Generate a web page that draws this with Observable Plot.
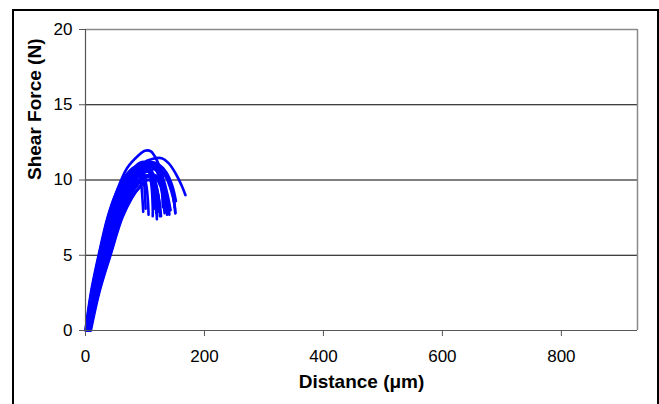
<!DOCTYPE html>
<html><head><meta charset="utf-8">
<script src="https://cdn.jsdelivr.net/npm/d3@7"></script>
<script src="https://cdn.jsdelivr.net/npm/@observablehq/plot@0.6"></script>
<style>
html,body{margin:0;padding:0;background:#fff;overflow:hidden;width:659px;height:404px}
#wrap{position:relative;width:659px;height:404px}
#wrap svg{position:absolute;left:0;top:0;background:transparent}
#frame{position:absolute;left:12px;top:9px;width:643px;height:500px;border:2px solid #000;pointer-events:none}
</style></head><body><div id="wrap"></div>
<script>
// Tick values and labels
const distanceTicks = [0, 200, 400, 600, 800];
const forceTicks = [0, 5, 10, 15, 20];
const gridForces = [5, 10, 15];
const xTitle = "Distance (μm)";
const yTitle = "Shear Force (N)";

// Individual shear tests: [distance µm, force N]
const run01 = [[0,0],[10,2.5],[23,5],[38,7.5],[52,9.2],[70,10.8],[88,11.6],[100,11.95],[110,11.9],[120,11.3],[130,10.2],[138,9],[143,8]];
const run02 = [[3,0],[14,2.5],[28,5],[45,7.5],[60,9.2],[78,10.5],[95,11.1],[112,11.4],[128,11.45],[140,11.1],[152,10.4],[162,9.6],[168,9.0]];
const run03 = [[2,0],[13,2.5],[27,5],[43,7.5],[58,9],[75,10.3],[92,10.9],[108,11.1],[122,10.9],[134,10.3],[144,9.3],[150,8.3],[151,7.8]];
const run04 = [[5,0],[16,2.5],[31,5],[49,7.5],[64,9],[80,10.1],[96,10.7],[110,10.9],[124,10.5],[132,9.5],[136,8.4],[137,7.7]];
const run05 = [[1,0],[11,2.5],[24,5],[40,7.5],[55,9],[72,10.3],[88,10.9],[100,11],[110,10.6],[116,9.5],[119,8.2],[120,7.4]];
const run06 = [[4,0],[15,2.5],[30,5],[47,7.5],[62,9],[78,10],[92,10.6],[104,10.7],[112,10.1],[117,8.8],[119,7.8]];
const run07 = [[6,0],[18,2.5],[34,5],[52,7.5],[68,9],[84,10],[98,10.5],[110,10.5],[118,9.8],[123,8.8],[126,7.7]];
const run08 = [[0,0],[9,2.5],[22,5],[37,7.5],[50,9],[66,10.2],[80,10.8],[90,10.9],[97,10.2],[100,9],[101,8.1]];
const run09 = [[7,0],[20,2.5],[37,5],[56,7.5],[72,9],[87,9.9],[100,10.3],[112,10.2],[120,9.4],[124,8.4],[125,7.6]];
const run10 = [[2,0],[12,2.5],[26,5],[42,7.5],[57,9],[73,10.2],[86,10.7],[96,10.6],[102,9.7],[105,8.6],[106,7.7]];
const run11 = [[8,0],[21,2.5],[39,5],[59,7.5],[76,9],[92,9.9],[106,10.3],[118,10.3],[128,9.8],[136,8.9],[140,7.9]];
const run12 = [[3,0],[14,2.5],[28,5],[45,7.5],[60,9],[76,10.2],[90,10.8],[104,11.0],[116,10.8],[126,10.1],[132,9],[134,7.9]];
const run13 = [[5,0],[17,2.5],[32,5],[50,7.5],[65,9],[81,10.1],[95,10.7],[108,10.9],[120,10.6],[130,9.8],[138,8.7],[141,7.7]];
const run14 = [[1,0],[12,2.5],[25,5],[41,7.5],[56,9],[72,10.4],[86,11],[98,11.2],[106,10.7],[111,9.6],[113,8.2],[113,7.6]];
const run15 = [[4,0],[15,2.5],[29,5],[46,7.5],[61,9],[78,10.2],[92,10.8],[104,10.9],[114,10.4],[120,9.2],[122,7.9]];
const run16 = [[6,0],[17,2.5],[33,5],[51,7.5],[67,9],[83,10.1],[98,10.7],[112,10.9],[126,10.7],[138,10.1],[146,9.2],[150,8.2]];
const run17 = [[2,0],[13,2.5],[27,5],[43,7.5],[58,9],[74,10.3],[88,10.9],[100,11.1],[112,11.0],[122,10.4],[128,9.4],[130,8.2]];
const run18 = [[8,0],[22,2.5],[41,5],[61,7.5],[77,8.8],[93,9.6],[105,10],[113,9.8],[118,8.9],[120,7.9]];
const run19 = [[3,0],[13,2.5],[26,5],[43,7.5],[57,9],[73,10.3],[87,10.9],[98,11],[108,10.5],[113,9.3],[116,8.1]];
const run20 = [[7,0],[19,2.5],[35,5],[54,7.5],[70,9],[86,10.1],[102,10.6],[118,10.7],[132,10.4],[142,9.7],[148,8.8],[151,7.8]];
const run21 = [[5,0],[16,2.5],[31,5],[48,7.5],[63,9],[79,10.3],[94,10.9],[110,11.2],[124,11],[136,10.5],[146,9.6],[152,8.6]];
const run22 = [[9,0],[23,2.5],[42,5],[62,7.5],[78,8.8],[92,9.6],[104,10],[114,9.9],[121,9.2],[125,8.3],[127,7.6]];
const run23 = [[6,0],[20,2.5],[39,5],[59,7.5],[75,9],[90,9.8],[104,10.2],[116,10.2],[126,9.6],[131,8.6],[133,7.8]];
const run24 = [[1,0],[10,2.5],[23,5],[38,7.5],[52,9],[68,10.2],[82,10.7],[90,10.6],[94,9.6],[96,8.6],[97,7.9]];

const runs = [run01,run02,run03,run04,run05,run06,run07,run08,run09,run10,run11,run12,run13,run14,run15,run16,run17,run18,run19,run20,run21,run22,run23,run24];
const table = runs.flatMap((r, i) => r.map(([d, f]) => ({run: i, d, f})));

const xMax = 928;

const chart = Plot.plot({
  width: 659,
  height: 404,
  marginLeft: 85,
  marginRight: 22,
  marginTop: 29,
  marginBottom: 74,
  style: {fontFamily: "'Liberation Sans', Arial, sans-serif", fontSize: "17px", color: "#000", background: "transparent"},
  x: {domain: [0, xMax]},
  y: {domain: [0, 20]},
  marks: [
    Plot.ruleY(gridForces, {stroke: "#000", strokeWidth: 1}),
    Plot.ruleY([20], {stroke: "#8a8a8a", strokeWidth: 1.5}),
    Plot.ruleX([xMax], {stroke: "#8a8a8a", strokeWidth: 1.5}),
    Plot.line(table, {x: "d", y: "f", z: "run", stroke: "#0000ff", strokeWidth: 2.6, curve: "catmull-rom"}),
    Plot.ruleX([0], {stroke: "#555", strokeWidth: 1.2}),
    Plot.ruleY([0], {stroke: "#555", strokeWidth: 1.2}),
    Plot.axisX({ticks: distanceTicks, tickSize: 6, tickPadding: 13, stroke: "#555", fill: "#000", label: null, fontSize: 17}),
    Plot.axisY({ticks: forceTicks, tickSize: 6, tickPadding: 7, stroke: "#555", fill: "#000", label: null, fontSize: 17}),
    Plot.text([xTitle], {frameAnchor: "bottom", dy: 57, text: d => d, fontSize: 19, fontWeight: "bold", fill: "#000"}),
    Plot.text([yTitle], {frameAnchor: "left", dx: -51, rotate: -90, text: d => d, fontSize: 19, fontWeight: "bold", fill: "#000"})
  ]
});
const wrap = document.getElementById("wrap");
wrap.appendChild(chart);
const frame = document.createElement("div");
frame.id = "frame";
wrap.appendChild(frame);
</script>
</body></html>
